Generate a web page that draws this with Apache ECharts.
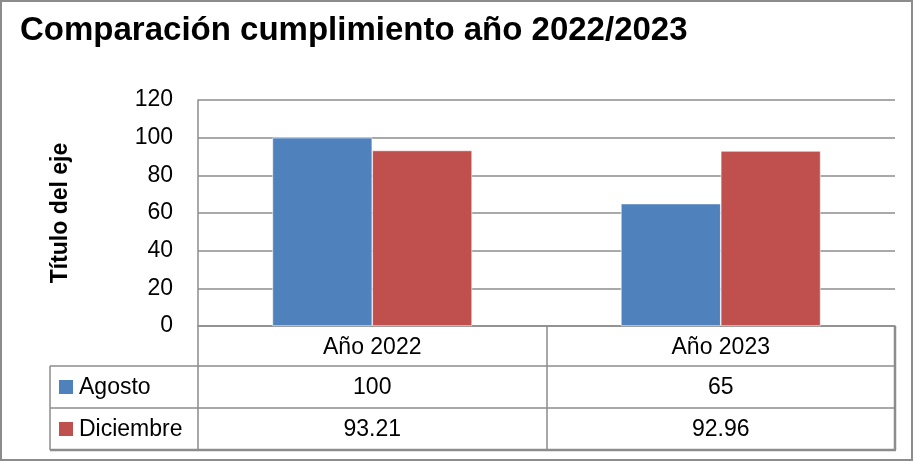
<!DOCTYPE html>
<html>
<head>
<meta charset="utf-8">
<style>html,body{margin:0;padding:0;background:#fff}#c{width:914px;height:462px}</style>
<script src="https://cdn.jsdelivr.net/npm/echarts@6/dist/echarts.min.js"></script>
</head>
<body>
<div id="c"></div>
<script>
var titleText = 'Comparación cumplimiento año 2022/2023';
var axisTitle = 'Título del eje';
var categories = ['Año 2022', 'Año 2023'];
var seriesNames = ['Agosto', 'Diciembre'];
var agosto = [100, 65];
var diciembre = [93.21, 92.96];
var agostoLabels = ['100', '65'];
var diciembreLabels = ['93.21', '92.96'];
var yTicks = [0, 20, 40, 60, 80, 100, 120];
var colors = ['#4F81BD', '#C0504D'];

var FONT = 'Liberation Sans';
var LINE = '#8c8c8c';
var FS = 23;
var chart = echarts.init(document.getElementById('c'), null, {renderer: 'canvas'});
var option = {
  animation: false,
  backgroundColor: '#fff',
  title: {
    text: titleText, left: 15, top: 9,
    textStyle: {fontFamily: FONT, fontWeight: 'bold', fontSize: 33, color: '#000'}
  },
  grid: {left: 198, right: 19, top: 100, bottom: 136, containLabel: false},
  xAxis: {
    type: 'category', data: categories,
    axisLine: {show: true, lineStyle: {color: LINE, width: 1.5}},
    axisTick: {show: true, length: 124, lineStyle: {color: LINE, width: 1.5}},
    axisLabel: {fontFamily: FONT, fontSize: FS, color: '#000', margin: 10}
  },
  yAxis: {
    type: 'value', min: yTicks[0], max: yTicks[yTicks.length - 1], interval: 20,
    name: axisTitle, nameLocation: 'middle', nameRotate: 90, nameGap: 126,
    nameTextStyle: {fontFamily: FONT, fontWeight: 'bold', fontSize: 23, color: '#000'},
    axisLine: {show: true, lineStyle: {color: LINE, width: 1.5}},
    axisTick: {show: false},
    splitLine: {lineStyle: {color: LINE, width: 1.5}},
    axisLabel: {fontFamily: FONT, fontSize: FS, color: '#000', margin: 25}
  },
  series: [
    {name: seriesNames[0], type: 'bar', data: agosto, barGap: '0%', barCategoryGap: '42.7%',
     itemStyle: {color: colors[0], borderColor: '#fff', borderWidth: 0.6}},
    {name: seriesNames[1], type: 'bar', data: diciembre, barGap: '0%', barCategoryGap: '42.7%',
     itemStyle: {color: colors[1], borderColor: '#fff', borderWidth: 0.6}}
  ]
};
chart.setOption(option);

function buildTable() {
  var gridRight = 914 - 19;
  var axisY = chart.convertToPixel({yAxisIndex: 0}, 0);
  var tableLeft = 50;
  var rowH = [40, 42, 42];
  var y0 = axisY, y1 = y0 + rowH[0], y2 = y1 + rowH[1], y3 = y2 + rowH[2];
  var els = [];
  var ls = {stroke: LINE, lineWidth: 1.5};
  [y1, y2].forEach(function (y) {
    els.push({type: 'line', shape: {x1: tableLeft, y1: y, x2: gridRight, y2: y}, style: ls});
  });
  els.push({type: 'line', shape: {x1: tableLeft, y1: y3, x2: gridRight + 1, y2: y3}, style: {stroke: LINE, lineWidth: 2.5}});
  els.push({type: 'line', shape: {x1: gridRight, y1: y0, x2: gridRight, y2: y3}, style: {stroke: LINE, lineWidth: 2.5}});
  els.push({type: 'line', shape: {x1: tableLeft, y1: y1, x2: tableLeft, y2: y3}, style: ls});
  var rows = [[agostoLabels, seriesNames[0], colors[0]], [diciembreLabels, seriesNames[1], colors[1]]];
  var rowY = [(y1 + y2) / 2, (y2 + y3) / 2];
  rows.forEach(function (r, i) {
    els.push({type: 'rect', shape: {x: tableLeft + 9, y: rowY[i] - 7, width: 14, height: 14}, style: {fill: r[2]}});
    els.push({type: 'text', x: tableLeft + 29, y: rowY[i] + 1, style: {text: r[1], fontFamily: FONT, fontSize: FS, fill: '#000', textVerticalAlign: 'middle', textAlign: 'left'}});
    categories.forEach(function (c, j) {
      var cx = chart.convertToPixel({xAxisIndex: 0}, c);
      els.push({type: 'text', x: cx, y: rowY[i] + 1, style: {text: r[0][j], fontFamily: FONT, fontSize: FS, fill: '#000', textAlign: 'center', textVerticalAlign: 'middle'}});
    });
  });
  els.push({type: 'rect', shape: {x: 1, y: 1, width: 911, height: 459}, style: {fill: 'none', stroke: '#8c8c8c', lineWidth: 2}});
  chart.setOption({graphic: {elements: els}});
}
buildTable();
</script>
</body>
</html>
